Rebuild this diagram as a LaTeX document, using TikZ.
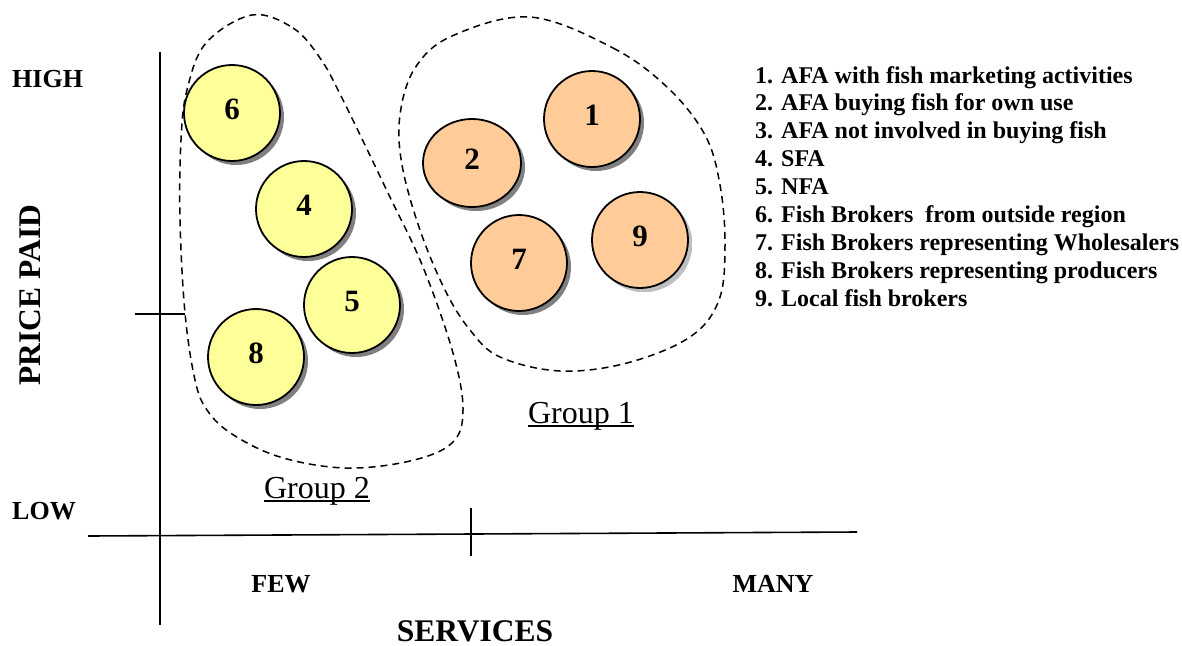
\documentclass[tikz,border=0pt]{standalone}
\usepackage{fontspec}
\setmainfont{Liberation Serif}
\usetikzlibrary{shapes.geometric,shadows}
\definecolor{yel}{HTML}{FFFF99}
\definecolor{ora}{HTML}{FFCC99}
\begin{document}
\begin{tikzpicture}[x=1pt,y=-1pt,
  bubble/.style={draw=black, line width=1.8pt, circle, minimum size=96pt, inner sep=0pt,
    drop shadow={shadow xshift=4pt, shadow yshift=-4pt, fill=black!50, opacity=1}},
  ybub/.style={bubble, fill=yel},
  obub/.style={bubble, fill=ora},
  num/.style={font=\fontsize{31}{31}\selectfont\bfseries, inner sep=0pt},
  axlbl/.style={font=\fontsize{26}{26}\selectfont\bfseries, inner sep=0pt},
  bigax/.style={font=\fontsize{31.5}{31.5}\selectfont\bfseries, inner sep=0pt},
  legend/.style={font=\fontsize{24}{24}\selectfont\bfseries, inner sep=0pt, anchor=base west},
  grp/.style={font=\fontsize{32}{32}\selectfont, inner sep=0pt, anchor=base},
  axis/.style={line width=1.6pt},
  blob/.style={line width=1.5pt, dash pattern=on 7pt off 5pt}
]
\useasboundingbox (0,0) rectangle (1182,645);

% dashed group outlines
\draw[blob] plot[smooth cycle, tension=0.6] coordinates {
  (252,15) (293,28) (320,58) (342,98) (388,193) (423,267) (453,353) (463,410)
  (452,443) (410,461) (345,468) (280,457) (232,434) (207,410) (195,380)
  (185,313) (180,220) (181,140) (187,90) (206,43)};
\draw[blob] plot[smooth cycle, tension=0.6] coordinates {
  (530,17) (613,48) (668,88) (705,135) (720,185) (725,245) (719,300) (690,337)
  (627,363) (560,371) (500,357) (470,330) (445,290) (420,230) (402,165)
  (400,115) (415,68) (452,36)};

% axes
\coordinate (vtop) at (160,52);
\coordinate (vbot) at (160,625);
\coordinate (hl) at (88,536);
\coordinate (hr) at (857,532);
\coordinate (ht1) at (471,508);
\coordinate (ht2) at (471,556);
\coordinate (vt1) at (135,314);
\coordinate (vt2) at (185,314);
\draw[axis] (vtop) -- (vbot);
\draw[axis] (hl) -- (hr);
\draw[axis] (ht1) -- (ht2);
\draw[axis] (vt1) -- (vt2);

% axis labels
\node[axlbl, anchor=base west] (high) at (12,87) {HIGH};
\node[axlbl, anchor=base west] (low) at (12,519) {LOW};
\node[axlbl, anchor=base] (few) at (281,592) {FEW};
\node[axlbl, anchor=base] (many) at (773,592) {MANY};
\node[bigax, anchor=base] (serv) at (475,641) {SERVICES};
\node[bigax, rotate=90] (price) at (30,295) {PRICE PAID};

% bubbles
\node[ybub] (c6) at (232,113) {};
\node[ybub] (c4) at (304,209) {};
\node[ybub] (c5) at (352,305) {};
\node[ybub] (c8) at (256,357) {};
\node[obub, ellipse, minimum width=98pt, minimum height=88pt] (c2) at (472,163) {};
\node[obub] (c1) at (592,119) {};
\node[obub] (c7) at (519,263) {};
\node[obub, drop shadow={shadow xshift=4pt, shadow yshift=-4pt, fill=black!25, opacity=1}] (c9) at (640,240) {};

\foreach \n in {6,4,5,8,2,1,7,9}
  \node[num] (t\n) at ([yshift=4pt]c\n.center) {\n};

% group labels
\node[grp] (g1) at (581,423) {Group 1};
\node[grp] (g2) at (317,498) {Group 2};
\draw[line width=1.2pt] ([yshift=-3pt]g1.base west) -- ([yshift=-3pt]g1.base east);
\draw[line width=1.2pt] ([yshift=-3pt]g2.base west) -- ([yshift=-3pt]g2.base east);

% legend
\node[legend] (l1) at (755,83.0) {1. AFA with fish marketing activities};
\node[legend] (l2) at (755,110.9) {2. AFA buying fish for own use};
\node[legend] (l3) at (755,138.8) {3. AFA not involved in buying fish};
\node[legend] (l4) at (755,166.7) {4. SFA};
\node[legend] (l5) at (755,194.6) {5. NFA};
\node[legend] (l6) at (755,222.5) {6. Fish Brokers~ from outside region};
\node[legend] (l7) at (755,250.4) {7. Fish Brokers representing Wholesalers};
\node[legend] (l8) at (755,278.3) {8. Fish Brokers representing producers};
\node[legend] (l9) at (755,306.2) {9. Local fish brokers};
\end{tikzpicture}
\end{document}
